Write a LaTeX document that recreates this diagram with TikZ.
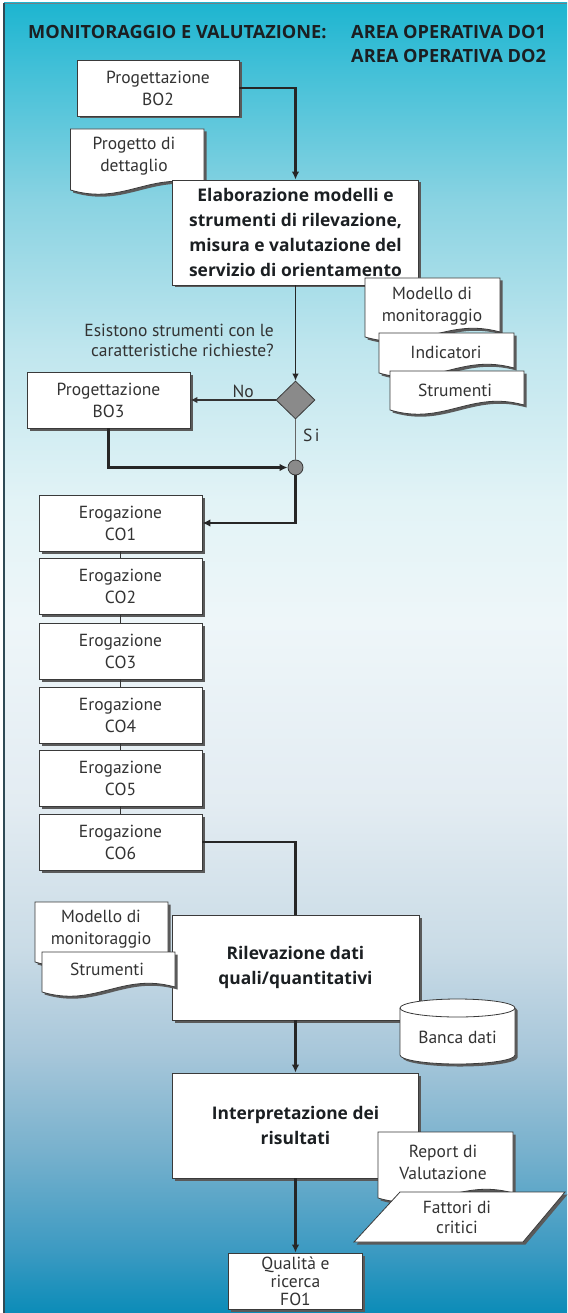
\documentclass[tikz,border=0pt]{standalone}
\usepackage{fontspec}
\setmainfont{PT Sans}
\newfontfamily\headfamily{Open Sans}
\usetikzlibrary{arrows.meta,shadows,shapes.geometric}

% panel gradient, top to bottom
\definecolor{bgA}{HTML}{1DB5D0}
\definecolor{bgB}{HTML}{3FBFD7}
\definecolor{bgC}{HTML}{8AD3E2}
\definecolor{bgD}{HTML}{C0E6EE}
\definecolor{bgE}{HTML}{E2F3F6}
\definecolor{bgF}{HTML}{EEF6F9}
\definecolor{bgG}{HTML}{E3ECF2}
\definecolor{bgH}{HTML}{C9DBE6}
\definecolor{bgI}{HTML}{A8C7DA}
\definecolor{bgJ}{HTML}{78B1CD}
\definecolor{bgK}{HTML}{3C9AC2}
\definecolor{bgL}{HTML}{0B8CB8}
\definecolor{edge}{HTML}{3A3A3A}
\definecolor{boxshadow}{HTML}{5A5A5A}
\definecolor{ink}{HTML}{333333}
\definecolor{inkdark}{HTML}{1B1F22}
\definecolor{decision}{HTML}{8A8A8A}
\definecolor{frame}{HTML}{2F4A55}

\pgfdeclareverticalshading{panelgrad}{100bp}{color(0bp)=(bgL); color(25bp)=(bgL); color(27.4bp)=(bgK); color(31.2bp)=(bgJ); color(35bp)=(bgI); color(38.8bp)=(bgH); color(44.5bp)=(bgG); color(51.4bp)=(bgF); color(56bp)=(bgE); color(61.7bp)=(bgD); color(67.4bp)=(bgC); color(72.7bp)=(bgB); color(75bp)=(bgA); color(100bp)=(bgA)}

\newcommand\fsreg{\fontsize{17.5}{22}\selectfont}
\newcommand\fsbold{\headfamily\fontsize{17.4}{25}\selectfont\bfseries}
\newcommand\fstitle{\headfamily\fontsize{18.2}{24}\selectfont\bfseries}
\newcommand\fstight{\fontsize{17.5}{18}\selectfont}

% document sheet with a wavy lower edge: x0, top y, x1, lower-left y
\newcommand\docsheet[4]{%
  \path[docpath] (#1,#2) -- (#3,#2) -- (#3,{#4-5})
    .. controls ({#1+0.6*(#3-#1)},{#4-20}) and ({#1+0.4*(#3-#1)},{#4+16}) .. (#1,#4) -- cycle;}

\tikzset{
  sheetshadow/.style={drop shadow={shadow xshift=2.5pt, shadow yshift=-2.5pt, opacity=1, fill=boxshadow}},
  procbox/.style={draw=edge, fill=white, line width=0.8pt, sheetshadow, inner sep=1pt,
    align=center, text=ink, font=\fsreg},
  boxsize/.style 2 args={minimum width=#1, minimum height=#2},
  bigbox/.style={procbox, font=\fsbold, text=inkdark},
  docpath/.style={draw=edge, fill=white, line width=0.8pt, sheetshadow},
  txt/.style={text=ink, font=\fsreg, align=center, inner sep=0pt},
  flow/.style={draw=black!85, line width=2.2pt, -{Latex[length=8pt,width=7.5pt]}},
  thinflow/.style={draw=black!85, line width=1pt, -{Latex[length=7pt,width=6.5pt]}},
  midflow/.style={draw=black!80, line width=1.4pt, -{Latex[length=7pt,width=6.5pt]}},
  link/.style={draw=black!80, line width=0.8pt},
}

\begin{document}
\begin{tikzpicture}[x=1pt,y=-1pt]
\useasboundingbox (0,0) rectangle (567,1313);
\fill[white] (0,0) rectangle (567,1313);
\shade[shading=panelgrad] (4,3) rectangle (567,1313);
\draw[frame!70, line width=0.8pt] (4,3) -- (567,3);
\draw[frame, line width=1.8pt] (4,3) -- (4,1313);

% heading
\node[anchor=base west, font=\fstitle, text=inkdark, inner sep=0pt] (title) at (28,39) {MONITORAGGIO E VALUTAZIONE:};
\node[anchor=base west, font=\fstitle, text=inkdark, inner sep=0pt] (area1) at (351,39) {AREA OPERATIVA DO1};
\node[anchor=base west, font=\fstitle, text=inkdark, inner sep=0pt] (area2) at (351,63) {AREA OPERATIVA DO2};

% design phase
\node[procbox, boxsize={162pt}{56pt}] (bo2) at (158,88) {Progettazione\\BO2};
\docsheet{70.5}{129}{204}{190}
\node[txt] (progetto) at (134,156.5) {Progetto di\\dettaglio};

\node[bigbox, boxsize={246pt}{105pt}] (elab) at (295.5,232.5)
  {Elaborazione modelli e\\strumenti di rilevazione,\\misura e valutazione del\\servizio di orientamento};

\docsheet{365}{278}{500}{337}
\node[txt] (modello1) at (432,306) {Modello di\\monitoraggio};
\docsheet{379}{333}{514}{373}
\node[txt] (indicatori) at (446,352.5) {Indicatori};
\docsheet{390}{371}{524}{410}
\node[txt] (strumenti1) at (455,390) {Strumenti};

% decision
\node[txt, anchor=east, align=right, font=\fontsize{17.5}{20}\selectfont] (domanda) at (274,340)
  {Esistono strumenti con le\\caratteristiche richieste?};
\node[diamond, draw=edge, fill=decision, line width=0.8pt, minimum width=39pt, minimum height=38pt, inner sep=0pt] (dia) at (295.5,400) {};
\node[procbox, boxsize={163pt}{56pt}] (bo3) at (108.5,400) {Progettazione\\BO3};
\node[circle, draw=edge, fill=decision, line width=0.8pt, minimum size=15pt, inner sep=0pt] (junc) at (295.5,467.5) {};

% delivery chain
\node[procbox, boxsize={163pt}{56pt}] (co1) at (120.5,523) {Erogazione\\CO1};
\node[procbox, boxsize={163pt}{56pt}] (co2) at (120.5,586.5) {Erogazione\\CO2};
\node[procbox, boxsize={163pt}{56pt}] (co3) at (120.5,651) {Erogazione\\CO3};
\node[procbox, boxsize={163pt}{56pt}] (co4) at (120.5,715) {Erogazione\\CO4};
\node[procbox, boxsize={163pt}{56pt}] (co5) at (120.5,778) {Erogazione\\CO5};
\node[procbox, boxsize={163pt}{56pt}] (co6) at (120.5,842) {Erogazione\\CO6};

% data collection and analysis
\node[bigbox, boxsize={247pt}{105pt}] (rilev) at (295.5,967.5) {Rilevazione dati\\quali/quantitativi};
\node[bigbox, boxsize={246pt}{105pt}] (interp) at (295.5,1125.5) {Interpretazione dei\\risultati};
\node[procbox, boxsize={134pt}{56pt}, font=\fstight, inner sep=0pt] (qual) at (295.5,1281) {Qualità e\\ricerca\\FO1};

% connectors
\draw[flow] (bo2.east) -| (elab.north);
\draw[thinflow] (elab.south) -- (dia.north);
\draw[midflow] (dia.west) -- node[pos=0.38, above=2pt, txt] {No} (bo3.east);
\draw[draw=black!60, line width=1.3pt] (dia.south) -- node[pos=0.4, anchor=west, xshift=7pt, txt] {S\kern2.5pt i} (junc.north);
\draw[flow] (bo3.south) |- (junc.west);
\draw[flow] (junc.south) |- (co1.east);
\draw[link] (co1.south) -- (co2.north);
\draw[link] (co2.south) -- (co3.north);
\draw[link] (co3.south) -- (co4.north);
\draw[link] (co4.south) -- (co5.north);
\draw[link] (co5.south) -- (co6.north);
\draw[draw=black!85, line width=2.2pt] (co6.east) -| (rilev.north);
\draw[flow] (rilev.south) -- (interp.north);
\draw[flow] (interp.south) -- (qual.north);

% inputs and outputs of the collection step
\docsheet{35}{902}{168}{962}
\node[txt] (modello2) at (101,929) {Modello di\\monitoraggio};
\docsheet{42}{952}{175}{992}
\node[txt] (strumenti2) at (107,969.5) {Strumenti};

\path[docpath] (400,1008) -- (400,1055)
  arc[start angle=180, end angle=360, x radius=57.5pt, y radius=9pt] -- (515,1008)
  arc[start angle=0, end angle=180, x radius=57.5pt, y radius=9pt] -- cycle;
\draw[draw=edge, line width=0.8pt] (400,1008) arc[start angle=180, end angle=360, x radius=57.5pt, y radius=9pt];
\node[txt] (banca) at (457.5,1037) {Banca dati};

% outputs of the interpretation step
\docsheet{378}{1132}{513}{1198}
\node[txt] (report) at (443,1162) {Report di\\Valutazione};
\path[docpath] (400,1192) -- (565,1192) -- (523,1242) -- (354,1242) -- cycle;
\node[txt, font=\fontsize{17.5}{20}\selectfont] (fattori) at (457,1217.5) {Fattori di\\critici};
\end{tikzpicture}
\end{document}
